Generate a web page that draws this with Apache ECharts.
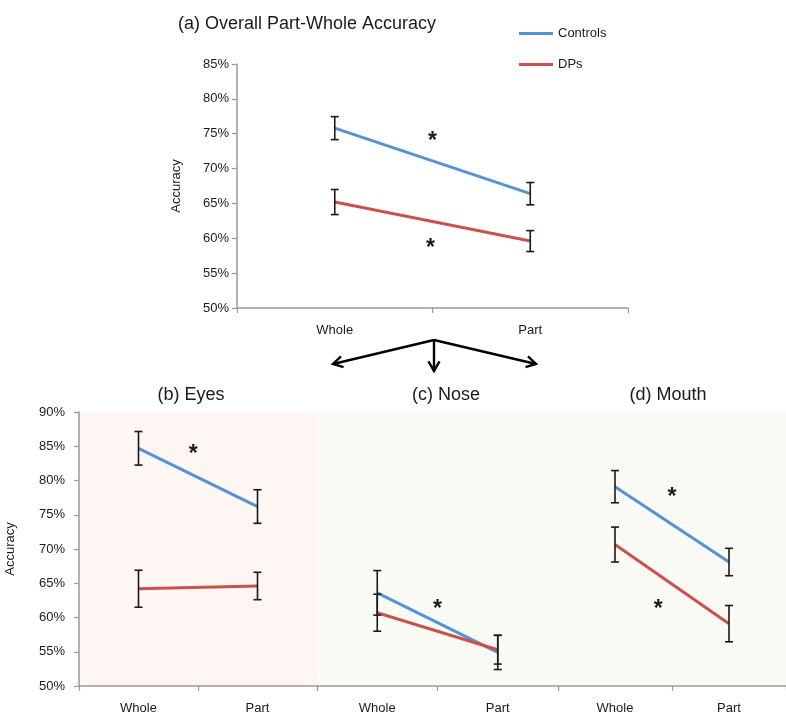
<!DOCTYPE html>
<html>
<head>
<meta charset="utf-8">
<script src="https://cdn.jsdelivr.net/npm/echarts@6/dist/echarts.min.js"></script>
<style>html,body{margin:0;padding:0;background:#fff}#c{width:786px;height:715px}</style>
</head>
<body>
<div id="c"></div>
<script>
// ---- data ----
const categories = ['Whole', 'Part'];
const seriesNames = ['Controls', 'DPs'];
const panelTitles = ['(a) Overall Part-Whole Accuracy', '(b) Eyes', '(c) Nose', '(d) Mouth'];

const controlsOverall = [75.8, 66.4];
const controlsOverallErr = [1.65, 1.6];
const dpsOverall = [65.2, 59.6];
const dpsOverallErr = [1.8, 1.5];
const starsOverall = [[0.5, 74.6], [0.49, 59.2]];

const controlsEyes = [84.7, 76.2];
const controlsEyesErr = [2.45, 2.45];
const dpsEyes = [64.2, 64.6];
const dpsEyesErr = [2.7, 2.0];
const starsEyes = [[0.46, 84.5]];

const controlsNose = [63.6, 54.9];
const controlsNoseErr = [3.25, 2.5];
const dpsNose = [60.7, 55.3];
const dpsNoseErr = [2.7, 2.1];
const starsNose = [[0.5, 61.9]];

const controlsMouth = [79.1, 68.1];
const controlsMouthErr = [2.35, 2.0];
const dpsMouth = [70.65, 59.1];
const dpsMouthErr = [2.55, 2.65];
const starsMouth = [[0.5, 78.2], [0.38, 61.9]];

const yTicksTop = [50, 85, 5];
const yTicksBottom = [50, 90, 5];

// ---- styling / layout ----
const FONT = 'Liberation Sans, Arial, sans-serif';
const BLUE = '#5593d2';
const RED = '#c9524d';
const TXT = '#1a1a1a';
const AXIS = '#9a9a9a';

const panels = [
  {controls: controlsOverall, cErr: controlsOverallErr, dps: dpsOverall, dErr: dpsOverallErr, stars: starsOverall,
   grid: {left: 237, right: 158, top: 64, bottom: 407}, yt: yTicksTop, showY: true, nameGap: 54, bg: 'transparent'},
  {controls: controlsEyes, cErr: controlsEyesErr, dps: dpsEyes, dErr: dpsEyesErr, stars: starsEyes,
   grid: {left: 79, width: 238, top: 412, bottom: 28}, yt: yTicksBottom, showY: true, nameGap: 62, bg: '#fdf6f2'},
  {controls: controlsNose, cErr: controlsNoseErr, dps: dpsNose, dErr: dpsNoseErr, stars: starsNose,
   grid: {left: 317, width: 241, top: 412, bottom: 28}, yt: yTicksBottom, showY: false, bg: '#fbfbf6'},
  {controls: controlsMouth, cErr: controlsMouthErr, dps: dpsMouth, dErr: dpsMouthErr, stars: starsMouth,
   grid: {left: 558, width: 241, top: 412, bottom: 28}, yt: yTicksBottom, showY: false, bg: '#fafaf5'}
];

const grids = [], xAxes = [], yAxes = [], series = [];
panels.forEach((p, i) => {
  grids.push(Object.assign({show: true, backgroundColor: p.bg, borderWidth: 0}, p.grid));
  // visible category axis
  xAxes.push({
    type: 'category', gridIndex: i, data: categories, boundaryGap: true,
    axisLine: {onZero: false, lineStyle: {color: AXIS, width: 1.5}},
    axisTick: {show: true, length: 5, lineStyle: {color: AXIS, width: 1.2}},
    axisLabel: {color: TXT, fontSize: 13, fontFamily: FONT, margin: 16}
  });
  yAxes.push({
    type: 'value', gridIndex: i, min: p.yt[0], max: p.yt[1], interval: p.yt[2],
    show: p.showY, position: 'left',
    name: p.showY ? 'Accuracy' : '', nameLocation: 'middle', nameGap: p.nameGap || 50,
    nameTextStyle: {color: TXT, fontSize: 13, fontFamily: FONT},
    axisLine: {show: true, onZero: false, lineStyle: {color: AXIS, width: 1.5}},
    axisTick: {show: true, length: 5, lineStyle: {color: AXIS, width: 1.2}},
    axisLabel: {color: TXT, fontSize: 13, fontFamily: FONT, formatter: '{value}%', margin: p.showY && i > 0 ? 14 : 8},
    splitLine: {show: false}
  });
});
// hidden value x-axes for annotations
panels.forEach((p, i) => {
  xAxes.push({type: 'value', gridIndex: i, min: -0.5, max: 1.5, show: false, axisLine: {onZero: false}});
});
const n = panels.length;

function errRender(params, api) {
  const x = api.value(0), v = api.value(1), e = api.value(2);
  const top = api.coord([x, v + e]);
  const bot = api.coord([x, v - e]);
  const w = 4;
  const st = {stroke: '#1a1a1a', lineWidth: 1.6};
  return {type: 'group', children: [
    {type: 'line', shape: {x1: top[0], y1: top[1], x2: bot[0], y2: bot[1]}, style: st},
    {type: 'line', shape: {x1: top[0] - w, y1: top[1], x2: top[0] + w, y2: top[1]}, style: st},
    {type: 'line', shape: {x1: bot[0] - w, y1: bot[1], x2: bot[0] + w, y2: bot[1]}, style: st}
  ]};
}
function starRender(params, api) {
  const pt = api.coord([api.value(0), api.value(1)]);
  return {type: 'text', x: pt[0], y: pt[1] + 5,
    style: {text: '*', fontSize: 23, fontFamily: FONT, fontWeight: 'bold', fill: '#1a1a1a', align: 'center', verticalAlign: 'middle'}};
}

panels.forEach((p, i) => {
  [[seriesNames[0], p.controls, BLUE], [seriesNames[1], p.dps, RED]].forEach(([name, vals, col]) => {
    series.push({
      name: name, type: 'line', xAxisIndex: i, yAxisIndex: i, data: vals,
      symbol: 'none', lineStyle: {color: col, width: 3}, itemStyle: {color: col}, z: 2, silent: true
    });
  });
  [[p.controls, p.cErr], [p.dps, p.dErr]].forEach(([vals, errs]) => {
    series.push({
      type: 'custom', xAxisIndex: n + i, yAxisIndex: i, z: 5, silent: true,
      data: vals.map((v, k) => [k, v, errs[k]]), renderItem: errRender
    });
  });
  series.push({
    type: 'custom', xAxisIndex: n + i, yAxisIndex: i, z: 5, silent: true,
    data: p.stars, renderItem: starRender
  });
});

// arrows (decoration)
function arrow(x1, y1, x2, y2) {
  const dx = x2 - x1, dy = y2 - y1, L = Math.hypot(dx, dy);
  const ux = dx / L, uy = dy / L, h = 11, a = Math.PI / 6;
  const p1 = [x2 - h * (ux * Math.cos(a) - uy * Math.sin(a)), y2 - h * (uy * Math.cos(a) + ux * Math.sin(a))];
  const p2 = [x2 - h * (ux * Math.cos(-a) - uy * Math.sin(-a)), y2 - h * (uy * Math.cos(-a) + ux * Math.sin(-a))];
  const st = {stroke: '#000', lineWidth: 2.4, fill: null, lineJoin: 'miter'};
  return [
    {type: 'line', shape: {x1: x1, y1: y1, x2: x2, y2: y2}, style: st},
    {type: 'polyline', shape: {points: [p1, [x2, y2], p2]}, style: st}
  ];
}
const graphics = [].concat(
  arrow(434, 340, 333, 364),
  arrow(434, 340, 434, 371),
  arrow(434, 340, 536, 364)
);

const titleCfg = [
  {text: panelTitles[0], left: 173, top: 10, textAlign: 'left'},
  {text: panelTitles[1], left: 186, top: 381, textAlign: 'center'},
  {text: panelTitles[2], left: 441, top: 381, textAlign: 'center'},
  {text: panelTitles[3], left: 663, top: 381, textAlign: 'center'}
].map(t => Object.assign(t, {textStyle: {fontSize: 18, fontWeight: 'normal', color: TXT, fontFamily: FONT}}));

const chart = echarts.init(document.getElementById('c'), null, {renderer: 'canvas'});
chart.setOption({
  animation: false,
  backgroundColor: '#fff',
  title: titleCfg,
  legend: {
    data: seriesNames, orient: 'vertical', left: 514, top: 22, itemGap: 18,
    icon: 'rect', itemWidth: 34, itemHeight: 3,
    textStyle: {color: TXT, fontSize: 13, fontFamily: FONT}, selectedMode: false
  },
  grid: grids,
  xAxis: xAxes,
  yAxis: yAxes,
  series: series,
  graphic: graphics
});
</script>
</body>
</html>
